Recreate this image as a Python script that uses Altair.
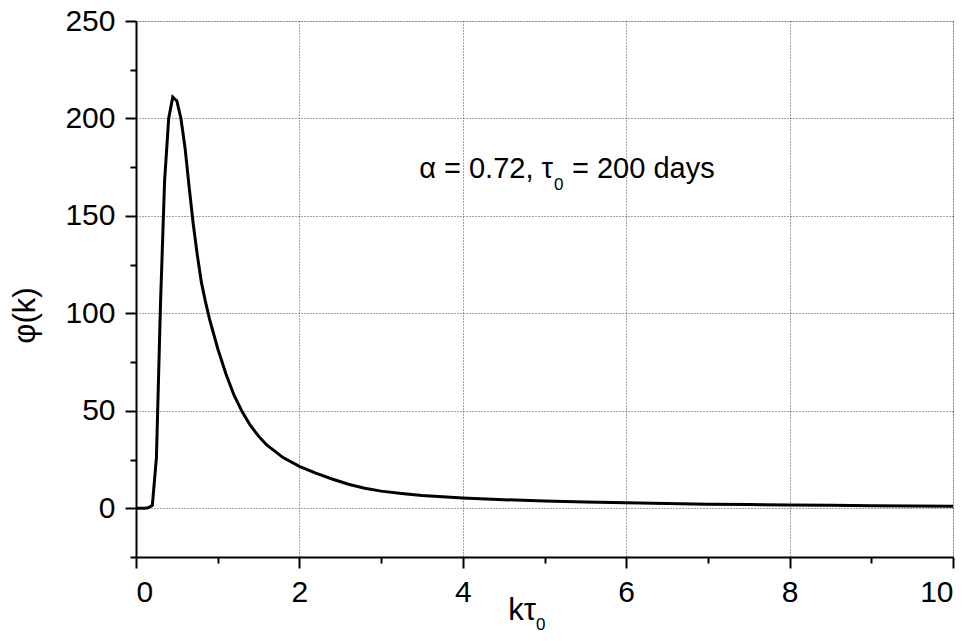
import altair as alt
import pandas as pd

# Curve values
k_tau = [0, 0.05, 0.1, 0.15, 0.2, 0.25, 0.3, 0.35, 0.4, 0.45, 0.5, 0.55, 0.6, 0.65,
         0.7, 0.75, 0.8, 0.85, 0.9, 1.0, 1.1, 1.2, 1.3, 1.4, 1.5, 1.6, 1.8, 2.0, 2.2, 2.4,
         2.6, 2.8, 3.0, 3.25, 3.5, 3.75, 4.0, 4.5, 5.0, 5.5, 6.0, 6.5, 7.0, 7.5, 8.0,
         8.5, 9.0, 9.5, 10.0]
phi_k = [0, 0, 0, 0.3, 1.5, 26, 105, 168, 200, 211, 209, 200, 185, 165,
         146, 130, 116, 106, 97, 82, 69, 58, 49.5, 42.5, 37, 32.5, 26, 21.5, 18, 15,
         12.3, 10.3, 8.8, 7.6, 6.6, 5.9, 5.3, 4.4, 3.7, 3.2, 2.8, 2.4, 2.1, 1.9, 1.7,
         1.5, 1.3, 1.2, 1.1]

x_major = [0, 2, 4, 6, 8, 10]
x_minor = [1, 3, 5, 7, 9]
y_major = [0, 50, 100, 150, 200, 250]
y_minor = [-25, 25, 75, 125, 175, 225]

annotation_main = "α = 0.72, τ"
annotation_sub = "0"
annotation_rest = "= 200 days"
x_title_main = "kτ"
x_title_sub = "0"
y_title = "φ(k)"

df = pd.DataFrame({"k": k_tau, "phi": phi_k})

FONT = "Liberation Sans"
xs = alt.Scale(domain=[0, 10], nice=False, zero=False)
ys = alt.Scale(domain=[-25, 250], nice=False, zero=False)

common = dict(domainColor="black", domainWidth=2, tickColor="black", tickWidth=2,
              labelFont=FONT, labelColor="black", labelFontSize=30,
              titleFont=FONT, titleColor="black", titleFontWeight="normal",
              titleFontSize=31)

line = alt.Chart(df).mark_line(color="black", strokeWidth=3).encode(
    x=alt.X("k:Q", scale=xs, axis=alt.Axis(
        values=x_major, title=None, grid=True, gridColor="#444",
        gridDash=[1, 2], gridWidth=1, tickSize=11, labelPadding=9,
        orient="bottom", **common)),
    y=alt.Y("phi:Q", scale=ys, axis=alt.Axis(
        values=y_major, title=y_title, grid=True, gridColor="#444",
        gridDash=[1, 2], gridWidth=1, tickSize=11, labelPadding=10,
        orient="left", titleX=-111, titleY=294, titleBaseline="middle",
        titleAngle=270, **common)),
)

minor = alt.Chart(df).mark_line(strokeOpacity=0).encode(
    x=alt.X("k:Q", scale=xs, axis=alt.Axis(
        values=x_minor, labels=False, title=None, grid=False, domain=False,
        tickSize=6, tickColor="black", tickWidth=2, orient="bottom")),
    y=alt.Y("phi:Q", scale=ys, axis=alt.Axis(
        values=y_minor, labels=False, title=None, grid=False, domain=False,
        tickSize=6, tickColor="black", tickWidth=2, orient="left")),
)

one = alt.Chart(df).transform_filter("datum.k == 0")


def label(txt, x, y, size, align, baseline):
    return one.mark_text(font=FONT, fontSize=size, color="black", align=align,
                         baseline=baseline).encode(
        x=alt.value(x), y=alt.value(y), text=alt.value(txt))


texts = [
    label(annotation_main, 417, 157, 29, "right", "alphabetic"),
    label(annotation_sub, 418, 156, 17, "left", "top"),
    label(annotation_rest, 436, 157, 29, "left", "alphabetic"),
    label(x_title_main, 400, 599, 31, "right", "alphabetic"),
    label(x_title_sub, 400, 596, 17, "left", "top"),
]

chart = alt.layer(minor, line, *texts).resolve_axis(
    x="independent", y="independent"
).properties(
    width=817, height=536,
    autosize=alt.AutoSizeParams(type="none"),
    padding={"left": 128, "top": 13, "right": 12, "bottom": 77},
).configure_view(stroke="black", strokeWidth=2).configure(background="white")

chart.save("out.html", embed_options={"renderer": "svg", "actions": False})
